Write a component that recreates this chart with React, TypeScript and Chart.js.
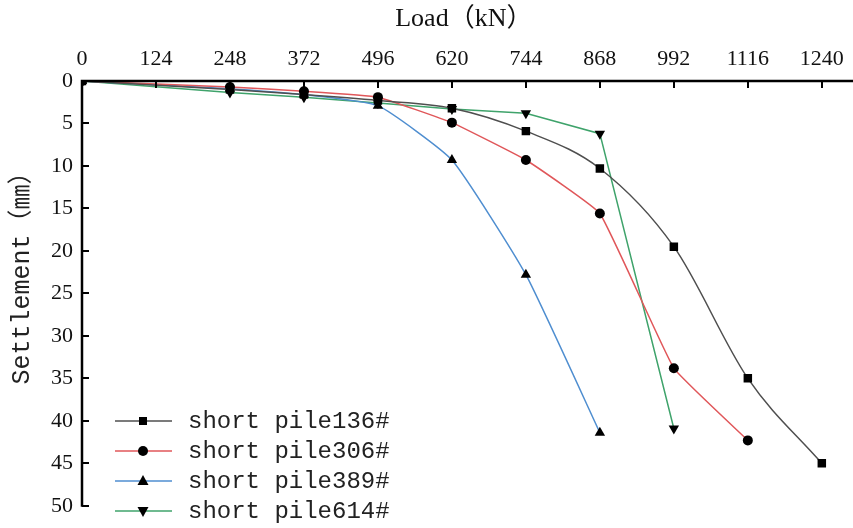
import React, { useEffect, useRef } from "react";
import { Chart, registerables } from "chart.js";

Chart.register(...registerables);

const loads136 = [0, 248, 372, 496, 620, 744, 868, 992, 1116, 1240];
const settle136 = [0, 1.0, 1.6, 2.3, 3.2, 5.9, 10.3, 19.5, 35.0, 45.0];
const loads306 = [0, 248, 372, 496, 620, 744, 868, 992, 1116];
const settle306 = [0, 0.7, 1.2, 1.9, 4.9, 9.3, 15.6, 33.8, 42.3];
const loads389 = [0, 248, 372, 496, 620, 744, 868];
const settle389 = [0, 0.9, 1.6, 2.9, 9.3, 22.8, 41.4];
const loads614 = [0, 248, 372, 496, 620, 744, 868, 992];
const settle614 = [0, 1.35, 1.9, 2.6, 3.3, 3.8, 6.2, 40.9];

const seriesLabels = ["short pile136#", "short pile306#", "short pile389#", "short pile614#"];
const xTickValues = [0, 124, 248, 372, 496, 620, 744, 868, 992, 1116, 1240];
const yTickValues = [0, 5, 10, 15, 20, 25, 30, 35, 40, 45, 50];
const xTitle = "Load（kN）";
const yTitle = "Settlement（㎜）";

const toPts = (xs: number[], ys: number[]) => xs.map((x, i) => ({ x, y: ys[i] }));

function drawMarker(ctx: CanvasRenderingContext2D, style: string, rot: number, x: number, y: number) {
  ctx.beginPath();
  if (style === "rect") {
    ctx.rect(x - 4, y - 4, 8, 8);
  } else if (style === "circle") {
    ctx.arc(x, y, 5, 0, Math.PI * 2);
  } else {
    const s = rot ? -1 : 1;
    ctx.moveTo(x, y - 6 * s);
    ctx.lineTo(x + 5.5, y + 4 * s);
    ctx.lineTo(x - 5.5, y + 4 * s);
    ctx.closePath();
  }
  ctx.fill();
}

const axesAndTicks = {
  id: "axesAndTicks",
  afterDatasetsDraw(chart: any) {
    const ctx = chart.ctx;
    const xs = chart.scales.x;
    const ys = chart.scales.y;
    const area = chart.chartArea;
    ctx.save();
    ctx.strokeStyle = "#000";
    ctx.lineWidth = 2.5;
    ctx.beginPath();
    ctx.moveTo(area.left, area.bottom + 1);
    ctx.lineTo(area.left, area.top);
    ctx.lineTo(chart.width, area.top);
    ctx.stroke();
    ctx.lineWidth = 2;
    ctx.beginPath();
    xTickValues.forEach((v) => {
      const px = Math.round(xs.getPixelForValue(v));
      ctx.moveTo(px, area.top);
      ctx.lineTo(px, area.top + 7);
    });
    yTickValues.forEach((v) => {
      const py = Math.round(ys.getPixelForValue(v));
      ctx.moveTo(area.left, py);
      ctx.lineTo(area.left + 7, py);
    });
    ctx.stroke();
    // y title
    ctx.fillStyle = "#222";
    ctx.font = "25px 'Liberation Mono', 'Noto Sans CJK SC', monospace";
    ctx.textAlign = "center";
    ctx.textBaseline = "middle";
    ctx.translate(22, 272);
    ctx.rotate(-Math.PI / 2);
    ctx.fillText(yTitle, 0, 0);
    ctx.restore();
  },
};

const insideLegend = {
  id: "insideLegend",
  afterDraw(chart: any) {
    const ctx = chart.ctx;
    const rows = [421, 451, 481, 511];
    ctx.save();
    chart.data.datasets.forEach((ds: any, i: number) => {
      const y = rows[i];
      ctx.strokeStyle = ds.borderColor;
      ctx.lineWidth = 1.5;
      ctx.beginPath();
      ctx.moveTo(115, y);
      ctx.lineTo(172, y);
      ctx.stroke();
      ctx.fillStyle = "#000";
      drawMarker(ctx, ds.pointStyle, ds.pointRotation || 0, 143, y);
      ctx.fillStyle = "#222";
      ctx.font = "24px 'Liberation Mono', monospace";
      ctx.textAlign = "left";
      ctx.textBaseline = "middle";
      ctx.fillText(ds.label, 188, y + 1);
    });
    ctx.restore();
  },
};

export default function App() {
  const ref = useRef<HTMLCanvasElement | null>(null);
  useEffect(() => {
    document.body.style.margin = "0";
    const cv = ref.current!;
    const common = {
      backgroundColor: "#000",
      pointBackgroundColor: "#000",
      pointBorderColor: "#000",
      pointBorderWidth: 0,
      borderWidth: 1.5,
    };
    const chart = new Chart(cv, {
      type: "line",
      data: {
        datasets: [
          {
            ...common,
            label: seriesLabels[0],
            data: toPts(loads136, settle136),
            borderColor: "#4f4f4f",
            pointStyle: "rect",
            pointRadius: 6,
            cubicInterpolationMode: "monotone",
          },
          {
            ...common,
            label: seriesLabels[1],
            data: toPts(loads306, settle306),
            borderColor: "#e0575a",
            pointStyle: "circle",
            pointRadius: 5,
            tension: 0.1,
          },
          {
            ...common,
            label: seriesLabels[2],
            data: toPts(loads389, settle389),
            borderColor: "#4f8ed0",
            pointStyle: "triangle",
            pointRadius: 6,
            tension: 0.15,
          },
          {
            ...common,
            label: seriesLabels[3],
            data: toPts(loads614, settle614),
            borderColor: "#3fa36b",
            pointStyle: "triangle",
            pointRotation: 180,
            pointRadius: 6,
            tension: 0,
          },
        ],
      },
      options: {
        animation: false,
        responsive: false,
        layout: { padding: { left: 0, right: 0, top: 0, bottom: 13 } },
        plugins: { legend: { display: false }, tooltip: { enabled: false } },
        scales: {
          x: {
            type: "linear",
            position: "top",
            min: 0,
            max: 1280,
            afterBuildTicks: (s: any) => {
              s.ticks = xTickValues.map((v) => ({ value: v }));
            },
            afterFit: (s: any) => {
              s.height = 81;
            },
            grid: { display: false, drawTicks: false },
            border: { display: false },
            ticks: {
              color: "#111",
              padding: 9,
              callback: (v: any) => String(v),
              font: { family: "'Liberation Serif', serif", size: 22 },
            },
            title: {
              display: true,
              text: xTitle,
              color: "#111",
              padding: { top: 4, bottom: 0 },
              font: { family: "'Liberation Serif', 'Noto Sans CJK SC', serif", size: 26 },
            },
          },
          y: {
            type: "linear",
            reverse: true,
            min: 0,
            max: 50,
            afterBuildTicks: (s: any) => {
              s.ticks = yTickValues.map((v) => ({ value: v }));
            },
            afterFit: (s: any) => {
              s.width = 82;
            },
            grid: { display: false, drawTicks: false },
            border: { display: false },
            ticks: {
              color: "#111",
              padding: 9,
              callback: (v: any) => String(v),
              font: { family: "'Liberation Serif', serif", size: 22 },
            },
            title: { display: false },
          },
        },
      },
      plugins: [axesAndTicks, insideLegend],
    } as any);
    return () => chart.destroy();
  }, []);
  return <canvas ref={ref} width={853} height={528} style={{ display: "block" }} />;
}
